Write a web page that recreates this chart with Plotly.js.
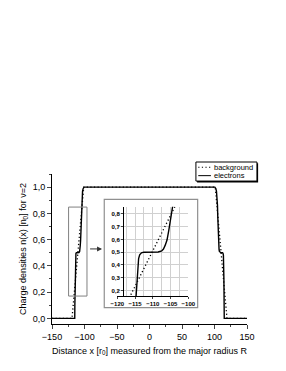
<!DOCTYPE html>
<html>
<head>
<meta charset="utf-8">
<script src="https://cdn.plot.ly/plotly-3.0.1.min.js"></script>
<style>html,body{margin:0;padding:0;background:#fff;}#chart{width:286px;height:371px;}</style>
</head>
<body>
<div id="chart"></div>
<script>
// electrons density (solid)
const electronsX = [-150, -115.0, -114.85, -114.65, -114.45, -114.2, -114.0, -113.7, -113.2, -112.5, -110.0, -108.5, -107.5, -107.0, -106.5, -106.0, -105.5, -105.0, -104.6, -104.0, -103.0, -102.0, -100.5,
                    100.5, 102.0, 103.0, 104.0, 104.6, 105.0, 105.5, 106.0, 106.5, 107.0, 107.5, 108.5, 110.0, 112.5, 113.2, 113.7, 114.0, 114.2, 114.45, 114.65, 114.85, 115.0, 150];
const electronsY = [0, 0, 0.1, 0.2, 0.3, 0.4, 0.45, 0.48, 0.495, 0.5, 0.5, 0.502, 0.51, 0.525, 0.555, 0.595, 0.67, 0.78, 0.86, 0.93, 0.97, 0.99, 1.0,
                    1.0, 0.99, 0.97, 0.93, 0.86, 0.78, 0.67, 0.595, 0.555, 0.525, 0.51, 0.502, 0.5, 0.5, 0.495, 0.48, 0.45, 0.4, 0.3, 0.2, 0.1, 0, 0];
// background density (dotted)
const backgroundX = [-150, -119.2, -101.2, 101.2, 119.2, 150];
const backgroundY = [0, 0, 1, 1, 0, 0];

const mainXTicks = [-150, -100, -50, 0, 50, 100, 150];
const insetXTicks = [-120, -115, -110, -105, -100];

const DOT = '1.2px,2.4px';
const traces = [
  {x: backgroundX, y: backgroundY, name: 'background', mode: 'lines', line: {color: '#000', width: 1.3, dash: DOT}, xaxis: 'x', yaxis: 'y', showlegend: false},
  {x: electronsX, y: electronsY, name: 'electrons', mode: 'lines', line: {color: '#000', width: 1.4}, xaxis: 'x', yaxis: 'y', showlegend: false},
  {x: backgroundX, y: backgroundY, name: 'background', mode: 'lines', line: {color: '#000', width: 1.3, dash: DOT}, xaxis: 'x2', yaxis: 'y2', showlegend: false},
  {x: electronsX, y: electronsY, name: 'electrons', mode: 'lines', line: {color: '#000', width: 1.4}, xaxis: 'x2', yaxis: 'y2', showlegend: false}
];

const FONT = 'Liberation Sans, Arial, sans-serif';

const layout = {
  width: 286, height: 371,
  margin: {l: 52, r: 39, t: 174, b: 47},
  paper_bgcolor: '#fff', plot_bgcolor: 'rgba(0,0,0,0)',
  separators: ', ',
  font: {family: FONT, color: '#000', size: 9},
  showlegend: false,
  xaxis: {
    range: [-150, 150], tickvals: mainXTicks, ticks: 'outside', ticklen: 4, tickwidth: 1,
    minor: {dtick: 25, ticks: 'outside', ticklen: 2},
    showline: true, linecolor: '#000', linewidth: 1, zeroline: false, showgrid: false,
    tickfont: {size: 9},
    title: {text: 'Distance x [r<sub>0</sub>] measured from the major radius R', font: {size: 9}, standoff: 6}
  },
  yaxis: {
    range: [-0.043, 1.1], tick0: 0, dtick: 0.2, tickformat: '.1f', ticks: 'outside', ticklen: 4, tickwidth: 1,
    minor: {dtick: 0.1, ticks: 'outside', ticklen: 2},
    showline: true, linecolor: '#000', linewidth: 1, zeroline: false, showgrid: false,
    tickfont: {size: 9},
    title: {text: 'Charge densities n(x) [n<sub>0</sub>] for ν=2', font: {size: 9}, standoff: 4}
  },
  xaxis2: {
    domain: [0.335, 0.699], anchor: 'y2', range: [-120, -100], tickvals: insetXTicks,
    ticks: 'outside', ticklen: 2, showline: true, linecolor: '#000', linewidth: 1, zeroline: false,
    showgrid: true, gridcolor: '#d0d0d0', gridwidth: 1,
    minor: {dtick: 2.5, showgrid: true, gridcolor: '#d0d0d0'},
    tickfont: {size: 6, weight: 'bold'}
  },
  yaxis2: {
    domain: [0.185, 0.781], anchor: 'free', position: 0.364, range: [0.155, 0.855],
    tick0: 0, dtick: 0.1, tickformat: '.1f', ticks: 'outside', ticklen: 2,
    showline: true, linecolor: '#000', linewidth: 1, zeroline: false,
    showgrid: true, gridcolor: '#d0d0d0', gridwidth: 1,
    tickfont: {size: 6, weight: 'bold'}
  },
  shapes: [
    // inset frame
    {type: 'rect', xref: 'paper', yref: 'paper', x0: 0.268, x1: 0.747, y0: 0.109, y1: 0.831, line: {color: '#909090', width: 1.2}, fillcolor: '#fff', layer: 'below'},
    // zoom region on main plot
    {type: 'rect', xref: 'x', yref: 'y', x0: -124.5, x1: -96.2, y0: 0.17, y1: 0.848, line: {color: '#808080', width: 1}},
    // legend box shadow and box
    {type: 'rect', xref: 'paper', yref: 'paper', x0: 0.744, x1: 1.057, y0: 0.944, y1: 1.071, line: {width: 0}, fillcolor: '#000'},
    {type: 'rect', xref: 'paper', yref: 'paper', x0: 0.738, x1: 1.051, y0: 0.953, y1: 1.08, line: {color: '#000', width: 1}, fillcolor: '#fff'},
    // legend keys
    {type: 'line', xref: 'paper', yref: 'paper', x0: 0.750, x1: 0.815, y0: 1.045, y1: 1.045, line: {color: '#000', width: 1, dash: DOT}},
    {type: 'line', xref: 'paper', yref: 'paper', x0: 0.750, x1: 0.815, y0: 0.989, y1: 0.989, line: {color: '#000', width: 1}}
  ],
  annotations: [
    {x: -73, y: 0.529, ax: -93.7, ay: 0.529, xref: 'x', yref: 'y', axref: 'x', ayref: 'y', text: '', showarrow: true, arrowhead: 2, arrowsize: 1, arrowwidth: 1, arrowcolor: '#333'},
    {x: 0.822, y: 1.045, xref: 'paper', yref: 'paper', xanchor: 'left', yanchor: 'middle', text: 'background', showarrow: false, font: {size: 7.5}},
    {x: 0.822, y: 0.989, xref: 'paper', yref: 'paper', xanchor: 'left', yanchor: 'middle', text: 'electrons', showarrow: false, font: {size: 7.5}}
  ]
};

Plotly.newPlot('chart', traces, layout, {staticPlot: true, displayModeBar: false});
</script>
</body>
</html>
